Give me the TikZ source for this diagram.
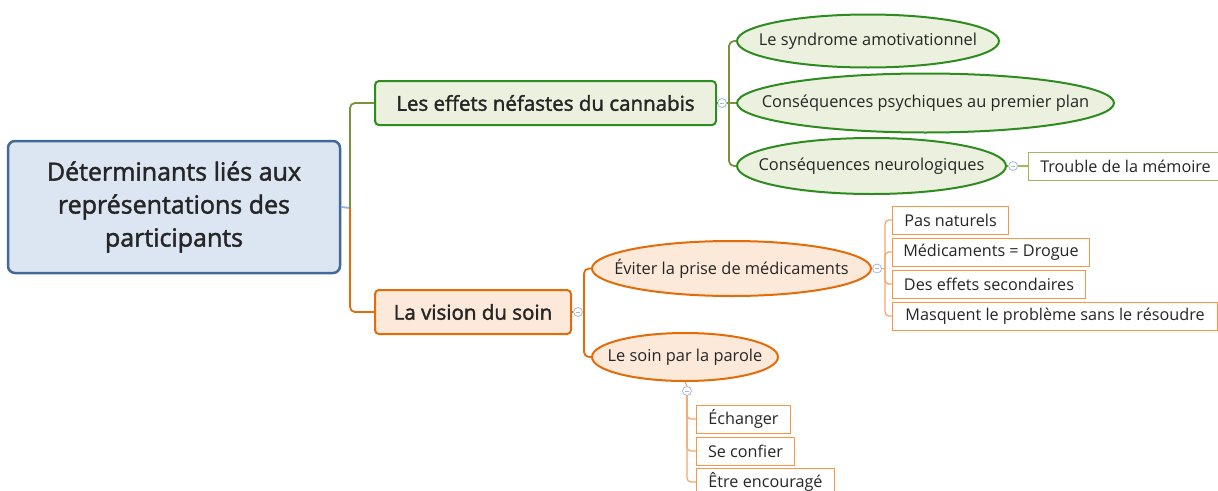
\documentclass[tikz,border=0pt]{standalone}
\usepackage{fontspec}
\setmainfont{Open Sans}
\newfontfamily\semib[FakeBold=1.8]{Open Sans}
\usetikzlibrary{shapes.geometric}
\definecolor{txt}{HTML}{262626}
\definecolor{rootfill}{HTML}{DCE6F2}
\definecolor{rootdraw}{HTML}{43699A}
\definecolor{rootconn}{HTML}{8DB3E2}
\definecolor{gfill}{HTML}{EBF1DE}
\definecolor{gdraw}{HTML}{2E8B1F}
\definecolor{gconn}{HTML}{77933C}
\definecolor{gsmall}{HTML}{9BBB59}
\definecolor{ofill}{HTML}{FDE9D9}
\definecolor{odraw}{HTML}{E36C09}
\definecolor{osmall}{HTML}{F79646}
\definecolor{oconnl}{HTML}{F5A86A}
\definecolor{coll}{HTML}{A8B8D8}
\tikzset{
  every node/.style={text=txt, inner sep=0pt},
  rootbox/.style={draw=rootdraw, fill=rootfill, line width=2.5pt, rounded corners=7pt, align=center, font=\semib\fontsize{25}{33}\selectfont},
  gmain/.style={draw=gdraw, fill=gfill, line width=2pt, rounded corners=4pt, font=\semib\fontsize{20.5}{24}\selectfont},
  omain/.style={draw=odraw, fill=ofill, line width=2pt, rounded corners=4pt, font=\semib\fontsize{20.5}{24}\selectfont},
  ellbase/.style={ellipse, line width=2pt, inner xsep=-175pt, inner ysep=-14pt, font=\fontsize{16.4}{19}\selectfont},
  gell/.style={ellbase, draw=gdraw, fill=gfill},
  oell/.style={ellbase, draw=odraw, fill=ofill},
  gleaf/.style={draw=gsmall, fill=white, line width=1pt, font=\fontsize{16.2}{19}\selectfont},
  oleaf/.style={draw=osmall, fill=white, line width=1pt, font=\fontsize{16.2}{19}\selectfont},
  gline/.style={draw=gconn, line width=1.8pt, rounded corners=5pt},
  oline/.style={draw=odraw, line width=1.8pt, rounded corners=5pt},
  olinel/.style={draw=oconnl, line width=1.3pt, rounded corners=4pt},
  collapse/.style={circle, draw=coll, fill=white, line width=0.8pt, minimum size=9pt,
    path picture={\draw[coll, line width=0.8pt] ([xshift=-2.2pt]path picture bounding box.center) -- ([xshift=2.2pt]path picture bounding box.center);}},
}
\begin{document}
\begin{tikzpicture}[x=1pt,y=-1pt]
\useasboundingbox (0,0) rectangle (1218,490);

% root
\node[rootbox, minimum width=332pt, minimum height=132pt] (root) at (174,207) {Déterminants liés aux\\représentations des\\participants};
\coordinate (j0) at (350,208);

% main branches
\node[gmain, minimum width=341pt, minimum height=44pt] (g) at (545.5,103) {Les effets néfastes du cannabis};
\node[omain, minimum width=196pt, minimum height=44pt] (o) at (473,312) {La vision du soin};

\draw[rootconn, line width=1.8pt] (root.east) -- (j0);
\draw[gline] (j0) |- (g.west);
\draw[oline] (j0) |- (o.west);

% green children
\node[collapse] (cg) at (722,103) {};
\coordinate (jg) at (729,103);
\node[gell, minimum width=262pt, minimum height=53pt] (g1) at (868,41) {Le syndrome amotivationnel};
\node[gell, minimum width=377pt, minimum height=59pt] (g2) at (925.5,103) {Conséquences psychiques au premier plan};
\node[gell, minimum width=269pt, minimum height=56pt] (g3) at (871.5,166) {Conséquences neurologiques};
\draw[gline] (g.east) -- (cg.west);
\draw[gline] (cg.east) -- (jg);
\draw[gline] (jg) |- (g1.west);
\draw[gline] (jg) -- (g2.west);
\draw[gline] (jg) |- (g3.west);

\node[collapse] (cg3) at (1013,166) {};
\node[gleaf, minimum width=194pt, minimum height=28pt, anchor=west] (g31) at (1028,166) {Trouble de la mémoire};
\draw[gconn, line width=1.2pt] (g3.east) -- (cg3.west);
\draw[gsmall, line width=1.2pt] (cg3.east) -- (g31.west);

% orange children
\node[collapse] (co) at (578,312) {};
\coordinate (jo) at (584,312);
\node[oell, minimum width=279pt, minimum height=55pt] (o1) at (731.5,268.5) {Éviter la prise de médicaments};
\node[oell, minimum width=186pt, minimum height=48pt] (o2) at (685,357) {Le soin par la parole};
\draw[oline] (o.east) -- (co.west);
\draw[oline] (co.east) -- (jo);
\draw[oline] (jo) |- (o1.west);
\draw[oline] (jo) |- (o2.west);

% leaves of o1
\node[collapse] (co1) at (877,268.5) {};
\coordinate (jo1) at (885,268.5);
\node[oleaf, minimum width=116pt, minimum height=28pt, anchor=west] (l1) at (892,220) {Pas naturels};
\node[oleaf, minimum width=197pt, minimum height=28pt, anchor=west] (l2) at (892,252) {Médicaments = Drogue};
\node[oleaf, minimum width=193pt, minimum height=28pt, anchor=west] (l3) at (892,284) {Des effets secondaires};
\node[oleaf, minimum width=325pt, minimum height=28pt, anchor=west] (l4) at (892,316) {Masquent le problème sans le résoudre};
\draw[olinel] (o1.east) -- (co1.west);
\draw[olinel] (co1.east) -- (jo1);
\draw[olinel] (jo1) |- (l1.west);
\draw[olinel] (jo1) |- (l2.west);
\draw[olinel] (jo1) |- (l3.west);
\draw[olinel] (jo1) |- (l4.west);

% leaves of o2
\node[collapse] (co2) at (687,391) {};
\node[oleaf, minimum width=94pt, minimum height=28pt, anchor=west] (m1) at (696,419) {Échanger};
\node[oleaf, minimum width=98pt, minimum height=28pt, anchor=west] (m2) at (696,451) {Se confier};
\node[oleaf, minimum width=138pt, minimum height=28pt, anchor=west] (m3) at (696,482) {Être encouragé};
\draw[olinel] (o2.south) -- (co2.north);
\draw[olinel] (co2.south) |- (m1.west);
\draw[olinel] (co2.south) |- (m2.west);
\draw[olinel] (co2.south) |- (m3.west);
\end{tikzpicture}
\end{document}
